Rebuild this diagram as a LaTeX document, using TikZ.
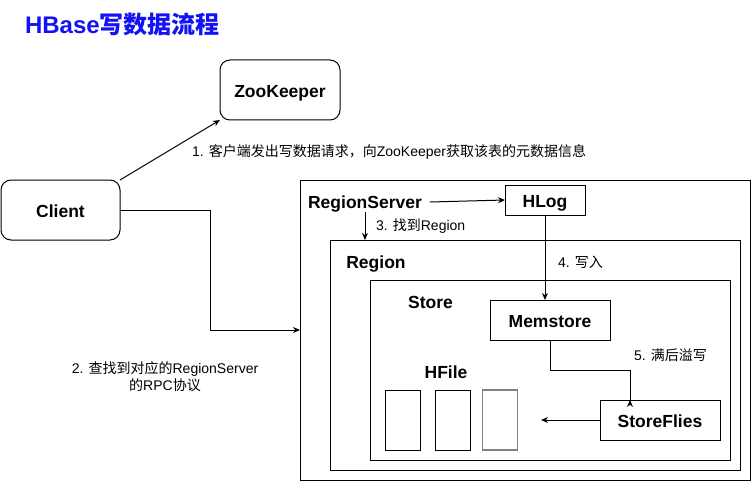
\documentclass[tikz,border=0pt]{standalone}
\usepackage{fontspec}
\setmainfont{Liberation Sans}
\newfontfamily\cjk{Noto Sans CJK SC}
\newcommand\zh[1]{{\cjk #1}}
\usetikzlibrary{arrows.meta}
\definecolor{titleblue}{RGB}{18,18,245}
\begin{document}
\begin{tikzpicture}[x=1pt,y=-1pt,
  every node/.style={inner sep=0pt, outer sep=0pt},
  line width=1pt,
  arr/.style={-{Stealth[length=7pt,width=6pt]}},
  boldtext/.style={font=\fontsize{17.5}{20}\selectfont\bfseries, text height=12.6pt, text depth=0pt},
  rbox/.style={draw, rounded corners=10pt, boldtext, text height=15.4pt},
  sbox/.style={draw, boldtext, text height=15.4pt},
  blabel/.style={boldtext},
  nlabel/.style={font=\fontsize{14}{17}\selectfont},
  filebox/.style={draw, minimum width=35, minimum height=60}
]
\useasboundingbox (0,0) rectangle (751,481);
% title
\node[anchor=west, font=\fontsize{24}{28}\selectfont\bfseries, text=titleblue, text height=17pt, text depth=0pt] (title) at (25,25) {HBase\zh{写数据流程}};
% top-level boxes
\node[rbox, minimum width=120, minimum height=60] (zk) at (280,90) {ZooKeeper};
\node[rbox, minimum width=119, minimum height=60] (client) at (60.5,210) {Client};
% containers
\node[draw, minimum width=450, minimum height=300] (rsbox) at (525,330) {};
\node[draw, minimum width=410, minimum height=230] (regionbox) at (535,355) {};
\node[draw, minimum width=360, minimum height=180] (storebox) at (550,370) {};
% container labels
\node[blabel] (rs) at (365,202) {RegionServer};
\node[blabel] (region) at (376,262) {Region};
\node[blabel] (store) at (430.5,302) {Store};
\node[blabel] (hfile) at (446,372) {HFile};
% inner boxes
\node[sbox, minimum width=80, minimum height=30] (hlog) at (545,200) {HLog};
\node[sbox, minimum width=120, minimum height=40] (mem) at (550,320) {Memstore};
\node[sbox, minimum width=120, minimum height=40] (sf) at (660,420) {StoreFlies};
\node[filebox] (f1) at (402.5,420) {};
\node[filebox] (f2) at (452.5,420) {};
\node[filebox, draw=black!50, line width=1.5pt] (f3) at (500,420) {};
% labels
\node[nlabel, anchor=west] (l1) at (192,152) {1. \zh{客户端发出写数据请求，向}ZooKeeper\zh{获取该表的元数据信息}};
\node[nlabel, align=center] (l2) at (165,377) {2. \zh{查找到对应的}RegionServer\\\zh{的}RPC\zh{协议}};
\node[nlabel, anchor=west] (l3) at (376,226) {3. \zh{找到}Region};
\node[nlabel, anchor=west] (l4) at (558,262) {4. \zh{写入}};
\node[nlabel, anchor=west] (l5) at (634,355) {5. \zh{满后溢写}};
% connectors
\coordinate (hfend) at (541,420);
\draw[arr] (client.north east) -- (zk.south west);
\draw[arr] (client.east) -| (210,330) -- (rsbox.west |- 0,330);
\draw[arr] ([xshift=8pt]rs.east) -- (hlog.west);
\draw[arr] ([yshift=-4pt]rs.south) -- (rs.south |- regionbox.north);
\draw[arr] (hlog.south) -- (hlog.south |- mem.north);
\draw[arr] (mem.south) -- (550,370) -| (630,400) -- (sf.north -| 630,0);
\draw[arr] (sf.west) -- (hfend);
\end{tikzpicture}
\end{document}
